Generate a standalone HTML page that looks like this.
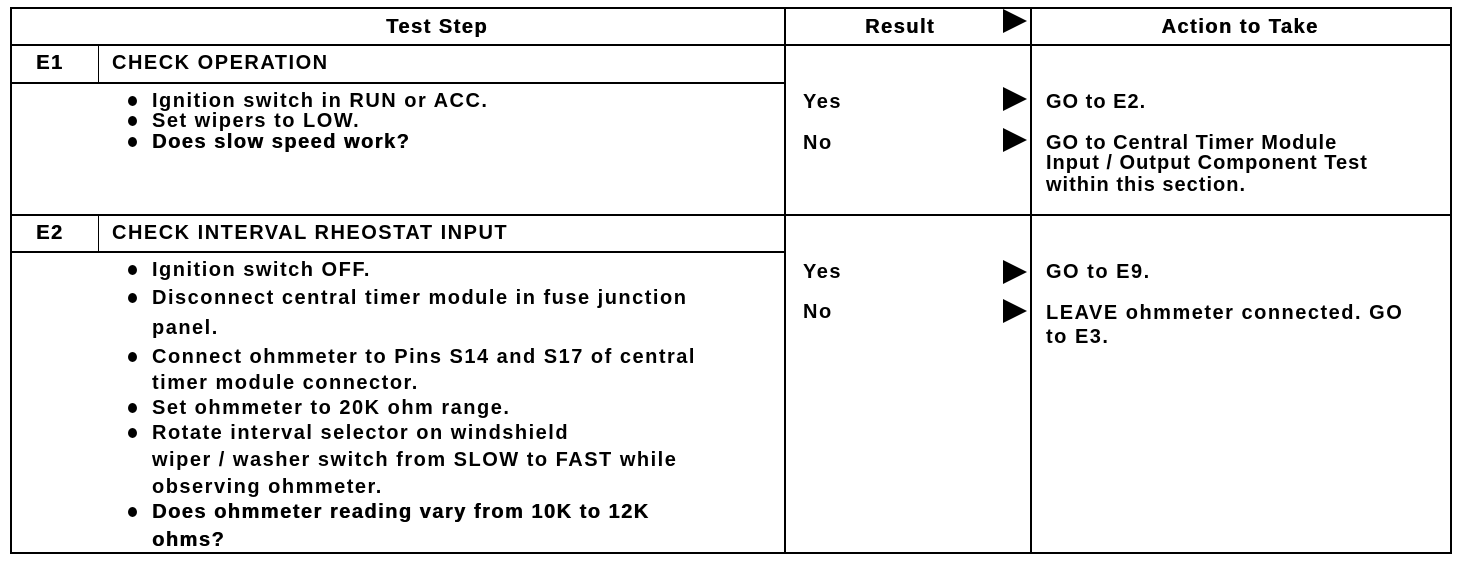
<!DOCTYPE html>
<html><head><meta charset="utf-8"><style>
html,body{margin:0;padding:0;background:#fff;}
body{width:1472px;height:564px;position:relative;overflow:hidden;font-family:"Liberation Sans",Arial,sans-serif;color:#000;}
.l{position:absolute;background:#000;}
.t{position:absolute;height:22px;line-height:22px;font-size:20px;white-space:nowrap;letter-spacing:1.5px;font-weight:bold;}
.c{text-align:center;width:300px;}
.h{font-weight:bold;text-shadow:0.5px 0 0 #000;}
.b{position:absolute;width:9px;height:10px;border-radius:50%;background:#000;}
.a{position:absolute;width:0;height:0;border-top:12px solid transparent;border-bottom:12px solid transparent;border-left:24px solid #000;}
</style></head><body>
<div class="l" style="left:10px;top:7px;width:1442px;height:2px"></div>
<div class="l" style="left:10px;top:44px;width:1442px;height:2px"></div>
<div class="l" style="left:10px;top:214px;width:1442px;height:2px"></div>
<div class="l" style="left:10px;top:552px;width:1442px;height:2px"></div>
<div class="l" style="left:10px;top:7px;width:2px;height:547px"></div>
<div class="l" style="left:1450px;top:7px;width:2px;height:547px"></div>
<div class="l" style="left:784px;top:7px;width:2px;height:547px"></div>
<div class="l" style="left:1030px;top:7px;width:2px;height:547px"></div>
<div class="l" style="left:98px;top:45px;width:1px;height:38px"></div>
<div class="l" style="left:98px;top:215px;width:1px;height:37px"></div>
<div class="l" style="left:10px;top:82px;width:776px;height:2px"></div>
<div class="l" style="left:10px;top:251px;width:776px;height:2px"></div>

<div class="t h c" style="left:287px;top:16px">Test Step</div>
<div class="t h c" style="left:750px;top:16px">Result</div>
<div class="a" style="left:1003px;top:9px"></div>
<div class="t h c" style="left:1090px;top:16px">Action to Take</div>

<div class="t h" style="left:36px;top:52px">E1</div>
<div class="t" style="left:112px;top:52px">CHECK OPERATION</div>
<div class="b" style="left:128px;top:96px"></div>
<div class="t" style="left:152px;top:90px">Ignition switch in RUN or ACC.</div>
<div class="b" style="left:128px;top:116px"></div>
<div class="t" style="left:152px;top:110px">Set wipers to LOW.</div>
<div class="b" style="left:128px;top:137px"></div>
<div class="t h" style="left:152px;top:131px">Does slow speed work?</div>

<div class="t" style="left:803px;top:91px">Yes</div>
<div class="a" style="left:1003px;top:87px"></div>
<div class="t" style="left:803px;top:132px">No</div>
<div class="a" style="left:1003px;top:128px"></div>
<div class="t" style="left:1046px;top:91px;letter-spacing:1px">GO to <b>E2.</b></div>
<div class="t" style="left:1046px;top:132px;letter-spacing:1px">GO to Central Timer Module</div>
<div class="t" style="left:1046px;top:152px;letter-spacing:1px">Input / Output Component Test</div>
<div class="t" style="left:1046px;top:174px;letter-spacing:1px">within this section.</div>

<div class="t h" style="left:36px;top:222px">E2</div>
<div class="t" style="left:112px;top:222px">CHECK INTERVAL RHEOSTAT INPUT</div>
<div class="b" style="left:128px;top:265px"></div>
<div class="t" style="left:152px;top:259px">Ignition switch OFF.</div>
<div class="b" style="left:128px;top:293px"></div>
<div class="t" style="left:152px;top:287px">Disconnect central timer module in fuse junction</div>
<div class="t" style="left:152px;top:317px">panel.</div>
<div class="b" style="left:128px;top:352px"></div>
<div class="t" style="left:152px;top:346px">Connect ohmmeter to Pins S14 and S17 of central</div>
<div class="t" style="left:152px;top:372px">timer module connector.</div>
<div class="b" style="left:128px;top:403px"></div>
<div class="t" style="left:152px;top:397px">Set ohmmeter to 20K ohm range.</div>
<div class="b" style="left:128px;top:428px"></div>
<div class="t" style="left:152px;top:422px">Rotate interval selector on windshield</div>
<div class="t" style="left:152px;top:449px">wiper / washer switch from SLOW to FAST while</div>
<div class="t" style="left:152px;top:476px">observing ohmmeter.</div>
<div class="b" style="left:128px;top:507px"></div>
<div class="t h" style="left:152px;top:501px">Does ohmmeter reading vary from 10K to 12K</div>
<div class="t h" style="left:152px;top:529px">ohms?</div>

<div class="t" style="left:803px;top:261px">Yes</div>
<div class="a" style="left:1003px;top:260px"></div>
<div class="t" style="left:803px;top:301px">No</div>
<div class="a" style="left:1003px;top:299px"></div>
<div class="t" style="left:1046px;top:261px">GO to <b>E9.</b></div>
<div class="t" style="left:1046px;top:302px">LEAVE ohmmeter connected. GO</div>
<div class="t" style="left:1046px;top:326px">to <b>E3.</b></div>
</body></html>
